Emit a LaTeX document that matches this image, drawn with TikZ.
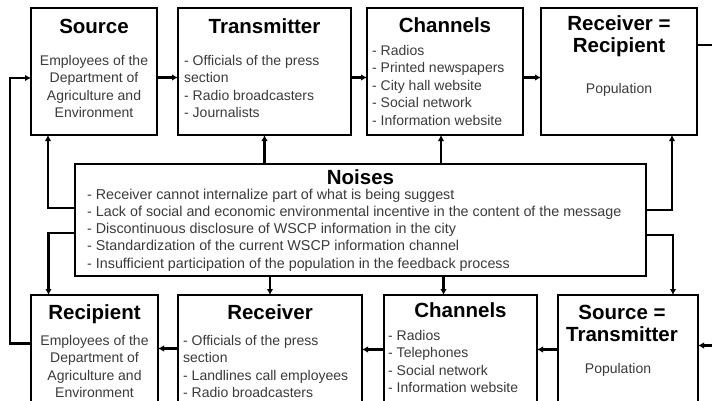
\documentclass[tikz,border=0pt]{standalone}
\usepackage{fontspec}
\setmainfont{Liberation Sans}
\usepackage{xcolor}
\definecolor{bodytext}{HTML}{3A3A3A}
\usepackage{tikz}
\usetikzlibrary{arrows.meta,positioning}

\begin{document}
\begin{tikzpicture}[x=1pt, y=-1pt,
  box/.style={draw, line width=2.6pt, minimum height=127pt, inner sep=0pt, outer sep=0pt},
  ttl/.style={font=\fontsize{20.5}{22.5}\selectfont\bfseries, inner sep=0pt, anchor=base, align=center},
  txt/.style={font=\fontsize{14}{17.6}\selectfont, text=bodytext, inner sep=0pt},
  arr/.style={-{Latex[length=6pt,width=6.5pt]}, line width=2.2pt}
]
  \useasboundingbox (0,0) rectangle (712,400);
  \clip (0,0) rectangle (712,400);
  % upper chain
  \node[box, minimum width=126pt] (src) at (94,71.5) {};
  \node[box, minimum width=173pt, right=21pt of src] (trm) {};
  \node[box, minimum width=156pt, right=16pt of trm] (chn) {};
  \node[box, minimum width=156pt, right=18pt of chn] (rr) {};
  % noises
  \node[box, minimum width=571pt, minimum height=112pt] (noi) at (360.5,220) {};
  % lower chain
  \node[box, minimum width=127pt] (rcp) at (94.5,358.5) {};
  \node[box, minimum width=184pt, right=20pt of rcp] (rcv) {};
  \node[box, minimum width=153pt, right=22pt of rcv] (chb) {};
  \node[box, minimum width=140pt, right=21pt of chb] (st) {};

  % texts (multi-line nodes sit on their last baseline)
  \node[ttl] (srcT) at ([yshift=-25pt]src.north) {Source};
  \node[txt, align=center, anchor=base] (srcB) at ([yshift=-109.8pt]src.north)
    {Employees of the\\Department of\\Agriculture and\\Environment};
  \node[ttl] (trmT) at ([yshift=-25pt]trm.north) {Transmitter};
  \node[txt, align=left, anchor=base west] (trmB) at ([xshift=6pt,yshift=-109.8pt]trm.north west)
    {- Officials of the press\\section\\- Radio broadcasters\\- Journalists};
  \node[ttl] (chnT) at ([yshift=-24pt]chn.north) {Channels};
  \node[txt, align=left, anchor=base west] (chnB) at ([xshift=5pt,yshift=-117.4pt]chn.north west)
    {- Radios\\- Printed newspapers\\- City hall website\\- Social network\\- Information website};
  \node[ttl] (rrT) at ([yshift=-44.5pt]rr.north) {Receiver =\\Recipient};
  \node[txt, anchor=base] (rrB) at ([yshift=-85pt]rr.north) {Population};

  \node[ttl] (noiT) at ([yshift=-20pt]noi.north) {Noises};
  \node[txt, font=\fontsize{14.3}{17.2}\selectfont, align=left, anchor=base west] (noiB)
    at ([xshift=12pt,yshift=-104pt]noi.north west)
    {\mbox{}- Receiver cannot internalize part of what is being suggest\\%
- Lack of social and economic environmental incentive in the content of the message\\%
- Discontinuous disclosure of WSCP information in the city\\%
- Standardization of the current WSCP information channel\\%
- Insufficient participation of the population in the feedback process};

  \node[ttl] (rcpT) at ([yshift=-24pt]rcp.north) {Recipient};
  \node[txt, align=center, anchor=base] (rcpB) at ([yshift=-102.8pt]rcp.north)
    {Employees of the\\Department of\\Agriculture and\\Environment};
  \node[ttl] (rcvT) at ([yshift=-24pt]rcv.north) {Receiver};
  \node[txt, align=left, anchor=base west] (rcvB) at ([xshift=5pt,yshift=-102.8pt]rcv.north west)
    {- Officials of the press\\section\\- Landlines call employees\\- Radio broadcasters};
  \node[ttl] (chbT) at ([yshift=-22pt]chb.north) {Channels};
  \node[txt, align=left, anchor=base west] (chbB) at ([xshift=4pt,yshift=-97.8pt]chb.north west)
    {- Radios\\- Telephones\\- Social network\\- Information website};
  \node[ttl] (stT) at ([xshift=-6pt,yshift=-46.5pt]st.north) {Source =\\Transmitter};
  \node[txt, anchor=base] (stB) at ([xshift=-10pt,yshift=-78pt]st.north) {Population};

  % connector ends
  \coordinate (chnIn) at ([xshift=-4pt]chn.south);
  \coordinate (chbIn) at ([xshift=-17pt]chb.north);

  % connectors
  \draw[arr] ([yshift=-6pt]src.east) -- ([yshift=-6pt]trm.west);
  \draw[arr] ([yshift=-6pt]trm.east) -- ([yshift=-6pt]chn.west);
  \draw[arr] ([yshift=-6pt]chn.east) -- ([yshift=-6pt]rr.west);
  \draw[arr] ([yshift=26.5pt]rr.east) -- ++(40,0) |- ([yshift=13pt]st.east);
  \draw[arr] ([yshift=9pt]st.west) -- ([yshift=9pt]chb.east);
  \draw[arr] ([yshift=9pt]chb.west) -- ([yshift=9pt]rcv.east);
  \draw[arr] ([yshift=10pt]rcv.west) -- ([yshift=10pt]rcp.east);
  \draw[arr] ([yshift=15pt]rcp.west) -- ++(-21,0) |- ([yshift=-6.5pt]src.west);

  \draw[arr] ([yshift=12pt]noi.west) -| ([xshift=-46pt]src.south);
  \draw[arr] ([yshift=-13pt]noi.west) -| ([xshift=-46pt]rcp.north);
  \draw[arr] (noi.north -| trm.south) -- (trm.south);
  \draw[arr] (noi.north -| chnIn) -- (chnIn);
  \draw[arr] ([yshift=10pt]noi.east) -| ([xshift=53pt]rr.south);
  \draw[arr] ([yshift=-15pt]noi.east) -| ([xshift=45pt]st.north);
  \draw[arr] (noi.south -| rcv.north) -- (rcv.north);
  \draw[arr] (noi.south -| chbIn) -- (chbIn);
\end{tikzpicture}
\end{document}
